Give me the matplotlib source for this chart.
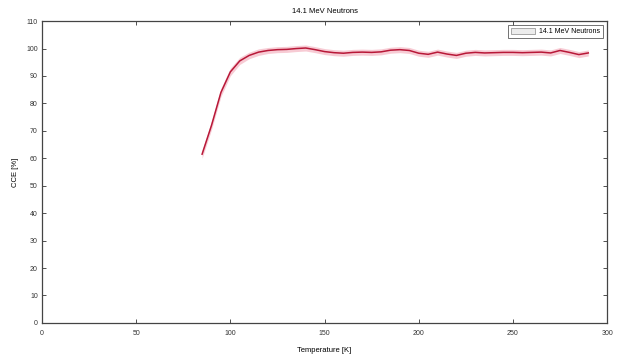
import matplotlib
matplotlib.use("Agg")
import matplotlib.pyplot as plt
from matplotlib.patches import Patch
import numpy as np

temperature = [85, 90, 95, 100, 105, 110, 115, 120, 125, 130, 135, 140, 145, 150,
               155, 160, 165, 170, 175, 180, 185, 190, 195, 200, 205, 210, 215, 220,
               225, 230, 235, 240, 245, 250, 255, 260, 265, 270, 275, 280, 285, 290]
cce = [61.5, 72.0, 84.0, 91.5, 95.5, 97.5, 98.7, 99.3, 99.6, 99.7, 100.0, 100.2,
       99.6, 98.9, 98.5, 98.3, 98.6, 98.7, 98.6, 98.8, 99.4, 99.6, 99.3, 98.3,
       97.9, 98.7, 98.0, 97.5, 98.3, 98.6, 98.4, 98.5, 98.6, 98.6, 98.5, 98.6,
       98.7, 98.4, 99.3, 98.6, 97.8, 98.4]
err = [1.5, 1.5, 1.5, 1.4, 1.3, 1.2, 1.2, 1.1, 1.1, 1.1, 1.1, 1.1, 1.1, 1.1,
       1.1, 1.1, 1.1, 1.1, 1.1, 1.1, 1.1, 1.1, 1.1, 1.1, 1.1, 1.1, 1.1, 1.1,
       1.1, 1.1, 1.1, 1.1, 1.1, 1.1, 1.1, 1.1, 1.1, 1.1, 1.1, 1.1, 1.1, 1.1]
xticks = [0, 50, 100, 150, 200, 250, 300]
yticks = list(range(0, 111, 10))
label = "14.1 MeV Neutrons"

t = np.array(temperature)
c = np.array(cce)
e = np.array(err)

plt.rcParams['font.family'] = ['Liberation Sans', 'DejaVu Sans']
fig = plt.figure(figsize=(6.17, 3.58), dpi=100)
ax = fig.add_axes([0.068, 0.098, 0.916, 0.843])

ax.fill_between(t, c - e, c + e, color='#f7c6d0', lw=0, alpha=0.9)
ax.plot(t, c, color='#b81838', lw=1.1)

ax.set_xlim(0, 300)
ax.set_ylim(0, 110)
ax.set_xticks(xticks)
ax.set_yticks(yticks)
ax.tick_params(direction='in', length=3, width=0.6, labelsize=5, top=True, right=True,
               colors='#333333')
ax.tick_params(axis='x', pad=5)
ax.tick_params(axis='y', pad=3)
for s in ax.spines.values():
    s.set_linewidth(0.9)
    s.set_color('#444444')
ax.set_title(label, fontsize=5.5, pad=6)
ax.set_xlabel("Temperature [K]", fontsize=5.5, labelpad=7)
ax.set_ylabel("CCE [%]", fontsize=5.5, labelpad=5)

h = Patch(facecolor='#ececec', edgecolor='#888888', lw=0.5)
leg = ax.legend([h], [label], loc='upper right', fontsize=5, frameon=True,
                fancybox=False, edgecolor='#333333', handlelength=3.5, handleheight=0.9,
                borderpad=0.4, borderaxespad=0.6, handletextpad=0.6)
leg.get_frame().set_linewidth(0.6)

fig.savefig("out.png", dpi=100)
